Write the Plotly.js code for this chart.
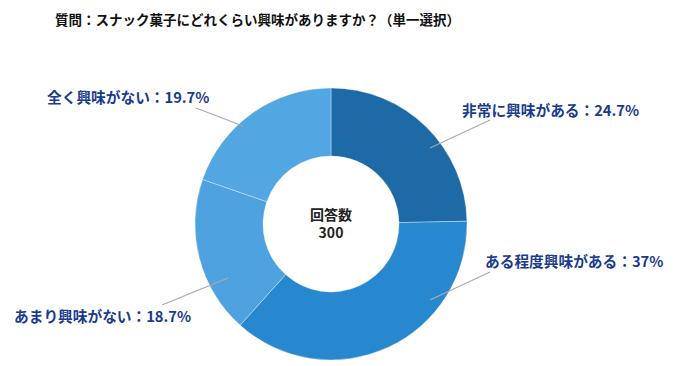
<!DOCTYPE html>
<html><head><meta charset="utf-8">
<script src="https://cdn.plot.ly/plotly-3.0.1.min.js"></script>
<style>html,body{margin:0;padding:0;background:#fff}#c{width:687px;height:366px}</style>
</head><body><div id="c"></div>
<script>
const categories = ["非常に興味がある", "ある程度興味がある", "あまり興味がない", "全く興味がない"];
const values = [24.7, 37, 18.7, 19.7];
const valueLabels = ["24.7%", "37%", "18.7%", "19.7%"];
const colors = ["#1e6aa6", "#2787cf", "#4ea2df", "#52a6e2"];
const totalLabel = "回答数";
const totalCount = 300;
const titleText = "質問：スナック菓子にどれくらい興味がありますか？（単一選択）";

const W = 687, H = 366;
const px = x => x / W, py = y => 1 - y / H;
const font = '"Noto Sans CJK JP", "Noto Sans", sans-serif';

// label placement (pixels): text anchor point, leader line start/end
const labelPos = [
  {tx: 460, ty: 109, l: [430, 148, 490, 120]},
  {tx: 483, ty: 260, l: [430, 300, 490, 272]},
  {tx: 12, ty: 315, l: [228, 278, 162, 305]},
  {tx: 45, ty: 96, l: [243, 126, 196, 108]}
];

const annotations = categories.map((c, i) => ({
  xref: 'paper', yref: 'paper', x: px(labelPos[i].tx), y: py(labelPos[i].ty),
  xanchor: 'left', yanchor: 'middle', showarrow: false,
  text: '<b>' + c + '：' + valueLabels[i] + '</b>',
  font: {family: font, size: 14.7, color: '#1a3b8e'}
}));
annotations.push({
  xref: 'paper', yref: 'paper', x: px(331), y: py(223), xanchor: 'center', yanchor: 'middle',
  showarrow: false, text: '<b>' + totalLabel + '</b><br><b>' + totalCount + '</b>',
  font: {family: font, size: 14, color: '#222'}
});

const shapes = labelPos.map(p => ({
  type: 'line', xref: 'paper', yref: 'paper',
  x0: px(p.l[0]), y0: py(p.l[1]), x1: px(p.l[2]), y1: py(p.l[3]),
  line: {color: '#aaaaaa', width: 1.2}
}));

const data = [{
  type: 'pie', labels: categories, values: values, sort: false, direction: 'clockwise',
  rotation: 0, hole: 0.5, textinfo: 'none', hoverinfo: 'none',
  marker: {colors: colors, line: {color: 'rgba(255,255,255,0.6)', width: 0.6}},
  domain: {x: [px(195), px(467)], y: [py(360), py(88)]}
}];

const layout = {
  width: W, height: H, margin: {l: 0, r: 0, t: 0, b: 0},
  paper_bgcolor: '#fff', showlegend: false,
  title: {text: '<b>' + titleText + '</b>', x: px(55), xanchor: 'left', xref: 'paper',
          y: py(20), yanchor: 'middle', yref: 'paper',
          font: {family: font, size: 13.5, color: '#111'}},
  annotations: annotations, shapes: shapes
};
Plotly.newPlot('c', data, layout, {staticPlot: true});
</script></body></html>
